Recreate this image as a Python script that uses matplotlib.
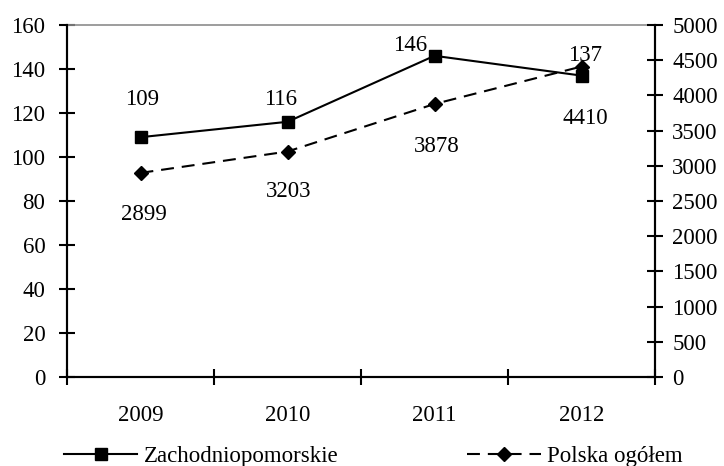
import matplotlib.pyplot as plt

plt.rcParams['font.family'] = ['Liberation Serif', 'DejaVu Serif']

years = ['2009', '2010', '2011', '2012']
zachodniopomorskie = [109, 116, 146, 137]
polska = [2899, 3203, 3878, 4410]

# label offsets in pixels (dx, dy) for each point
zp_offsets = [(2, 38), (-7, 22), (-24, 10), (4, 20)]
pl_offsets = [(3, -42), (1, -40), (2, -43), (4, -52)]

fs = 16.5
fig = plt.figure(figsize=(7.24, 4.66), dpi=100)
ax = fig.add_axes([67 / 724, 89 / 466, 588 / 724, 352 / 466])
ax2 = ax.twinx()

x = range(len(years))
l1, = ax.plot(x, zachodniopomorskie, color='black', lw=1.5, marker='s',
              markersize=8, label='Zachodniopomorskie', zorder=3)
l2, = ax2.plot(x, polska, color='black', lw=1.5, linestyle=(0, (6.2, 3.8)),
               marker='D', markersize=7, label='Polska ogółem', zorder=3)

for i, v in enumerate(zachodniopomorskie):
    ax.annotate(str(v), (i, v), xytext=zp_offsets[i], textcoords='offset pixels',
                ha='center', va='center', fontsize=fs)
for i, v in enumerate(polska):
    ax2.annotate(str(v), (i, v), xytext=pl_offsets[i], textcoords='offset pixels',
                 ha='center', va='center', fontsize=fs)

ax.set_xlim(-0.5, len(years) - 0.5)
ax.set_ylim(0, 160)
ax.set_yticks(range(0, 161, 20))
ax2.set_ylim(0, 5000)
ax2.set_yticks(range(0, 5001, 500))

# category labels centred, tick marks between categories
ax.set_xticks([i - 0.5 for i in range(len(years) + 1)])
ax.set_xticklabels([])
ax.set_xticks(list(x), minor=True)
ax.set_xticklabels(years, minor=True, fontsize=fs)
ax.tick_params(axis='x', which='major', direction='inout', length=11, width=1.5)
ax.tick_params(axis='x', which='minor', length=0, pad=20)

ax.tick_params(axis='y', direction='inout', length=11, width=1.5, labelsize=fs, pad=10)
ax2.tick_params(axis='y', direction='inout', length=11, width=1.5, labelsize=fs, pad=7)

for a in (ax, ax2):
    for s in ('left', 'right', 'bottom'):
        a.spines[s].set_linewidth(1.5)
ax.spines['top'].set_color('#8c8c8c')
ax.spines['top'].set_linewidth(1.2)
ax2.spines['top'].set_visible(False)

fig.legend(handles=[l1, l2], loc='center left', bbox_to_anchor=(64 / 724, 10 / 466),
           ncol=2, frameon=False, fontsize=fs, borderpad=0, borderaxespad=0,
           handlelength=3.2, handletextpad=0.3, columnspacing=5.6)

fig.savefig('out.png', dpi=100)
